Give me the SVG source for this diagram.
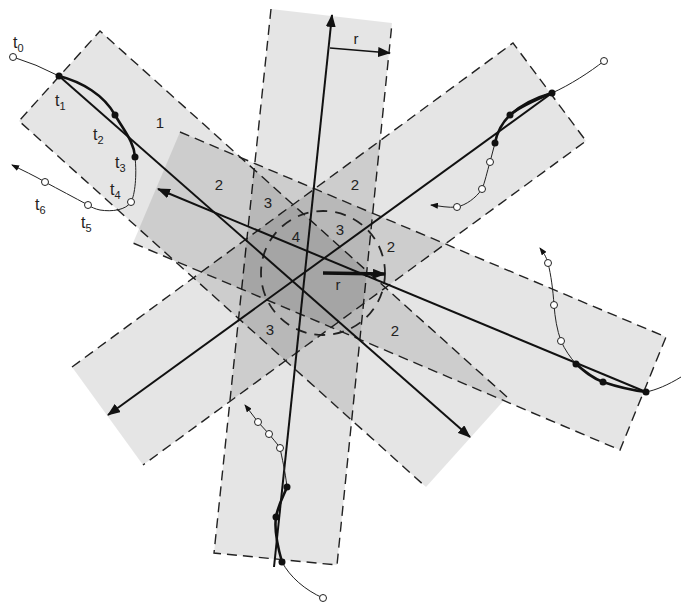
<svg xmlns="http://www.w3.org/2000/svg" width="681" height="606" viewBox="0 0 681 606">
<style>
.band{fill:#000;fill-opacity:0.1;stroke:none}
.edge{fill:none;stroke:#222;stroke-width:1.4;stroke-dasharray:10 6}
.axis{fill:none;stroke:#111;stroke-width:2;marker-end:url(#ah)}
.thin{fill:none;stroke:#222;stroke-width:1}
.thick{fill:none;stroke:#111;stroke-width:2.6}
.op{fill:#fff;stroke:#222;stroke-width:1}
.dot{fill:#111}
.lbl{font-family:"Liberation Sans",Arial,sans-serif;font-size:15px;fill:#222;text-anchor:middle}
.t{font-family:"Liberation Sans",Arial,sans-serif;font-size:16px;fill:#222}
.sub{font-size:11px}
</style>
<defs>
<marker id="ah" markerUnits="userSpaceOnUse" markerWidth="14" markerHeight="10" refX="12" refY="5" orient="auto"><path d="M0,0 L13,5 L0,10 z" fill="#111"/></marker>
<marker id="ahs" markerUnits="userSpaceOnUse" markerWidth="8" markerHeight="6" refX="7" refY="3" orient="auto"><path d="M0,0 L8,3 L0,6 z" fill="#111"/></marker>
</defs>
<g id="band-a"><polygon class="band" points="271,9 392,23 337,565 214,553"/><path class="edge" d="M271,9 L214,553 L337,565 L392,23"/></g>
<g id="band-b"><polygon class="band" points="100,31 507,397 426,487 19,121"/><path class="edge" d="M507,397 L100,31 L19,121 L426,487"/></g>
<g id="band-c"><polygon class="band" points="513,43 586,141 143,465 72,367"/><path class="edge" d="M72,367 L513,43 L586,141 L143,465"/></g>
<g id="band-d"><polygon class="band" points="180,132 666,337 620,450 133,243"/><path class="edge" d="M180,132 L666,337 L620,450 L133,243"/></g>
<g id="circle"><circle cx="323" cy="273" r="62" fill="none" stroke="#222" stroke-width="1.8" stroke-dasharray="11 8"/></g>
<g id="connectors">
<path class="axis" d="M274,567 L332,15"/>
<path class="axis" d="M59,76 L470,437"/>
<path class="axis" d="M552,93 L108,415"/>
<path class="axis" d="M646,392 L158,189"/>
<path d="M330,48 L390,53" fill="none" stroke="#111" stroke-width="1.6" marker-end="url(#ah)"/>
<path d="M323,273 L385,274" fill="none" stroke="#111" stroke-width="3.5" marker-end="url(#ah)"/>
</g>
<g id="track-b">
<path class="thin" d="M13,57 Q36,64 59,76"/>
<path class="thick" d="M59,76 C82,82 104,95 115,115 C125,132 134,142 135,157"/>
<path class="thin" marker-end="url(#ahs)" d="M135,157 C137,175 135,195 131,202 C126,210 112,212 100,210 C95,209 91,207 88,205 C75,198 58,189 45,182 C35,176 22,170 12,165"/>
<circle class="op" cx="13" cy="57" r="3.5"/><circle class="dot" cx="59" cy="76" r="3.5"/><circle class="dot" cx="115" cy="115" r="3.5"/><circle class="dot" cx="135" cy="157" r="3.5"/><circle class="op" cx="131" cy="202" r="3.5"/><circle class="op" cx="88" cy="205" r="3.5"/><circle class="op" cx="45" cy="182" r="3.5"/>
</g>
<g id="track-c">
<path class="thin" d="M604,61 C590,72 570,85 552,93"/>
<path class="thick" d="M552,93 C535,100 518,108 510,115 C503,122 497,132 495,143"/>
<path class="thick" d="M552,93 C538,97 522,104 510,115" stroke-width="1.4"/>
<path class="thin" marker-end="url(#ahs)" d="M495,143 L490,162 C487,172 485,182 482,189 C476,198 466,205 457,207 C448,208 440,206 431,205"/>
<circle class="op" cx="604" cy="61" r="3.5"/><circle class="dot" cx="552" cy="93" r="3.5"/><circle class="dot" cx="510" cy="115" r="3.5"/><circle class="dot" cx="495" cy="143" r="3.5"/><circle class="op" cx="490" cy="162" r="3.5"/><circle class="op" cx="482" cy="189" r="3.5"/><circle class="op" cx="457" cy="207" r="3.5"/>
</g>
<g id="track-d">
<path class="thin" d="M681,377 C668,385 656,390 646,392"/>
<path class="thick" d="M646,392 C630,390 615,386 603,382 C592,378 584,371 576,364"/>
<path class="thin" marker-end="url(#ahs)" d="M576,364 C570,357 565,350 561,341 C557,330 555,318 554,305 C553,290 551,275 548,263 C546,256 543,252 540,248"/>
<circle class="dot" cx="646" cy="392" r="3.5"/><circle class="dot" cx="603" cy="382" r="3.5"/><circle class="dot" cx="576" cy="364" r="3.5"/><circle class="op" cx="561" cy="341" r="3.5"/><circle class="op" cx="554" cy="305" r="3.5"/><circle class="op" cx="548" cy="263" r="3.5"/>
</g>
<g id="track-a">
<path class="thin" d="M323,598 C305,590 290,577 282,562"/>
<path class="thick" d="M282,562 C278,548 274,530 276,517 C278,505 284,495 287,487"/>
<path class="thin" marker-end="url(#ahs)" d="M287,487 C285,470 282,458 280,448 C276,442 272,438 269,434 L258,422 L245,405"/>
<circle class="op" cx="323" cy="598" r="3.5"/><circle class="dot" cx="282" cy="562" r="3.5"/><circle class="dot" cx="276" cy="517" r="3.5"/><circle class="dot" cx="287" cy="487" r="3.5"/><circle class="op" cx="280" cy="448" r="3.5"/><circle class="op" cx="269" cy="434" r="3.5"/><circle class="op" cx="258" cy="422" r="3.5"/>
</g>
<g id="labels">
<text class="t" x="13" y="48">t<tspan class="sub" dy="4">0</tspan></text>
<text class="t" x="55" y="106">t<tspan class="sub" dy="4">1</tspan></text>
<text class="t" x="93" y="140">t<tspan class="sub" dy="4">2</tspan></text>
<text class="t" x="115" y="168">t<tspan class="sub" dy="4">3</tspan></text>
<text class="t" x="110" y="195">t<tspan class="sub" dy="4">4</tspan></text>
<text class="t" x="81" y="228">t<tspan class="sub" dy="4">5</tspan></text>
<text class="t" x="35" y="210">t<tspan class="sub" dy="4">6</tspan></text>
<text class="lbl" x="356" y="44">r</text>
<text class="lbl" x="338" y="290">r</text>
<text class="lbl" x="160" y="128">1</text>
<text class="lbl" x="219" y="190">2</text>
<text class="lbl" x="268" y="208">3</text>
<text class="lbl" x="355" y="190">2</text>
<text class="lbl" x="296" y="242">4</text>
<text class="lbl" x="340" y="235">3</text>
<text class="lbl" x="391" y="252">2</text>
<text class="lbl" x="270" y="335">3</text>
<text class="lbl" x="395" y="336">2</text>
</g>
</svg>
